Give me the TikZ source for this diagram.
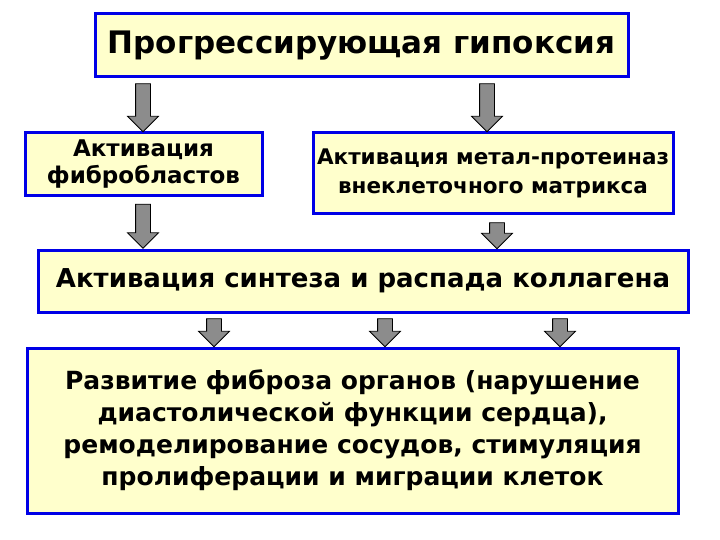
\documentclass[tikz,border=0pt]{standalone}
\usepackage{fontspec}
\setmainfont{DejaVu Sans}
\usetikzlibrary{shapes.arrows}
\definecolor{boxfill}{HTML}{FFFFCC}
\definecolor{boxline}{HTML}{0000E6}
\definecolor{arrgray}{HTML}{8C8C8C}
\begin{document}
\begin{tikzpicture}[x=1pt,y=-1pt,
  box/.style={draw=boxline,line width=3pt,fill=boxfill,inner sep=0pt,align=center,font=\bfseries},
  darrow/.style={single arrow,draw=black,fill=arrgray,line width=0.8pt,shape border rotate=270,
     single arrow head extend=8pt,single arrow tip angle=90,inner sep=7pt,minimum height=#1},
  darrow/.default=46pt]
\useasboundingbox (0,0) rectangle (720,540);
\node[box,minimum width=533pt,minimum height=63pt,font=\bfseries\fontsize{31}{34}\selectfont] (top) at (361.5,45.5) {Прогрессирующая гипоксия};
\node[box,minimum width=237pt,minimum height=63pt,font=\bfseries\fontsize{23}{27}\selectfont] (fib) at (143.5,164.5) {Активация\\фибробластов};
\node[box,minimum width=360pt,minimum height=81pt,font=\bfseries\fontsize{21.5}{29}\selectfont] (mmp) at (493,173.5) {Активация метал-протеиназ\\внеклеточного матрикса};
\node[box,minimum width=650pt,minimum height=62pt,font=\bfseries\fontsize{26}{30}\selectfont] (col) at (363,281) {Активация синтеза и распада коллагена};
\node[box,minimum width=651pt,minimum height=165pt,font=\bfseries\fontsize{25}{32}\selectfont] (res) at (352.5,430.5) {Развитие фиброза органов (нарушение\\диастолической функции сердца),\\ремоделирование сосудов, стимуляция\\пролиферации и миграции клеток};
\node[darrow=48pt] (a1) at (143,104) {};
\node[darrow=48pt] (a2) at (487,104) {};
\node[darrow=44pt] (a3) at (143,222.5) {};
\node[darrow=26pt] (a4) at (497,232) {};
\node[darrow=28pt] (a5) at (214,329) {};
\node[darrow=28pt] (a6) at (385,329) {};
\node[darrow=28pt] (a7) at (560,329) {};
\end{tikzpicture}
\end{document}
